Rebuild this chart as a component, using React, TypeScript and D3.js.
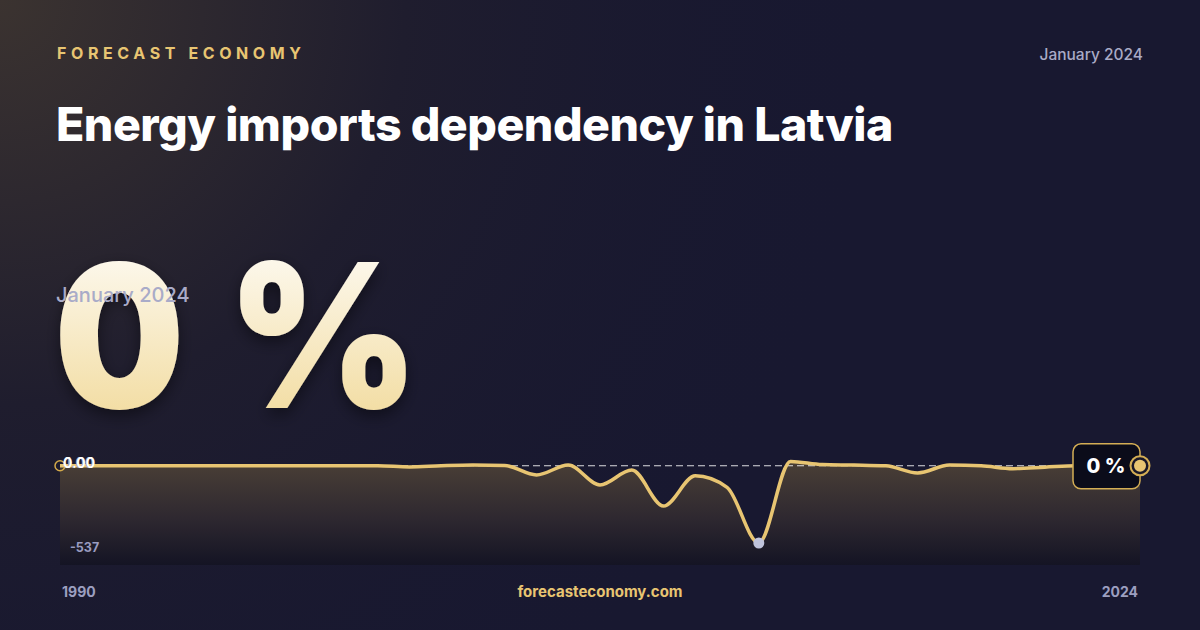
import React from 'react';
import * as d3 from 'd3';

const years = d3.range(1990, 2025);
const values = [
  0, 0, 0, 0, 0, 0, 0, 0, 0, 0,
  0, -8, 0, 5, 2, -64, 5, -133, -30, -280,
  -70, -150, -537, 30, 8, 5, 0, -50, 5, 0,
  -20, -10, 0, 0, 0,
];
const yDomain = [-537, 40];
const brand = 'FORECAST ECONOMY';
const title = 'Energy imports dependency in Latvia';
const period = 'January 2024';
const latestLabel = '0 %';
const site = 'forecasteconomy.com';

const W = 1200;
const H = 630;
const FONT = 'Inter, "Noto Sans", sans-serif';
const GOLD = '#e8c572';

export default function App() {
  const x = d3.scaleLinear().domain([1990, 2024]).range([60, 1140]);
  const y = d3.scaleLinear().domain(yDomain).range([543, 460]);
  const bottom = 565;

  const pts = years.map((yr, i) => ({ yr, v: values[i] }));

  const line = d3.line<{ yr: number; v: number }>()
    .x(d => x(d.yr))
    .y(d => y(d.v))
    .curve(d3.curveMonotoneX);

  const area = d3.area<{ yr: number; v: number }>()
    .x(d => x(d.yr))
    .y0(bottom)
    .y1(d => y(d.v))
    .curve(d3.curveMonotoneX);

  const minIdx = d3.minIndex(values);
  const last = pts[pts.length - 1];
  const lx = x(last.yr);
  const ly = y(last.v);

  return (
    <svg width={W} height={H} style={{ display: 'block', position: 'absolute', left: 0, top: 0 }}>
      <defs>
        <radialGradient id="glow" cx="0" cy="0" r="0.75" gradientTransform="scale(1,1.9)">
          <stop offset="0%" stopColor="#3b3330" />
          <stop offset="45%" stopColor="#1f1d2e" />
          <stop offset="100%" stopColor="#181830" stopOpacity="0" />
        </radialGradient>
        <linearGradient id="areaFill" x1="0" y1="0" x2="0" y2="1">
          <stop offset="0%" stopColor="#4a3f36" />
          <stop offset="55%" stopColor="#2e2830" />
          <stop offset="100%" stopColor="#141424" />
        </linearGradient>
        <linearGradient id="bigFill" x1="0" y1="0" x2="0" y2="1">
          <stop offset="0%" stopColor="#ffffff" />
          <stop offset="100%" stopColor="#f0d690" />
        </linearGradient>
        <filter id="shadow" x="-20%" y="-20%" width="140%" height="140%">
          <feDropShadow dx="0" dy="6" stdDeviation="8" floodColor="#000" floodOpacity="0.45" />
        </filter>
      </defs>

      <rect width={W} height={H} fill="#181830" />
      <rect width={W} height={H} fill="url(#glow)" />

      <text x={57} y={59} fill={GOLD} fontFamily={FONT} fontWeight={700} fontSize={16} letterSpacing={4.6}>
        {brand}
      </text>
      <text x={1143} y={60} textAnchor="end" fill="#a9abc6" fontFamily={FONT} fontWeight={500} fontSize={15.5}>
        {period}
      </text>
      <text x={56} y={141} fill="#ffffff" fontFamily={FONT} fontWeight={800} fontSize={46.5} letterSpacing={-0.5}>
        {title}
      </text>

      <g transform="translate(54,0) scale(0.92,1)">
        <text x={0} y={408} fill="url(#bigFill)" fontFamily={FONT} fontWeight={900} fontSize={200}
          letterSpacing={3} filter="url(#shadow)">
          {latestLabel}
        </text>
      </g>
      <text x={56} y={302} fill="#a9abc8" fontFamily={FONT} fontWeight={500} fontSize={20}>
        {period}
      </text>

      <path d={area(pts) ?? ''} fill="url(#areaFill)" />
      <line x1={x(1990)} x2={x(2024)} y1={y(0)} y2={y(0)} stroke="#ffffff" strokeOpacity={0.85}
        strokeWidth={1} strokeDasharray="7 4" />
      <path d={line(pts) ?? ''} fill="none" stroke={GOLD} strokeWidth={3.5} strokeLinejoin="round" />

      <circle cx={x(1990)} cy={y(values[0])} r={5} fill="none" stroke="#d4aa4a" strokeWidth={1.5} />
      <text x={65} y={468} fill="#9a9cb4" fontFamily={FONT} fontWeight={700} fontSize={14}>1.00</text>
      <text x={63} y={468} fill="#ffffff" fontFamily={FONT} fontWeight={700} fontSize={14}>0.00</text>
      <text x={70} y={552} fill="#9a9cc0" fontFamily={FONT} fontWeight={700} fontSize={12.5}>
        {String(values[minIdx])}
      </text>

      <circle cx={x(years[minIdx])} cy={y(values[minIdx])} r={5.5} fill="#c0c4dc" />

      <rect x={lx - 67} y={ly - 22} width={67} height={45} rx={8} fill="#0b0c1a" stroke="#d4ae55" strokeWidth={1.5} />
      <text x={lx - 34} y={ly + 7} textAnchor="middle" fill="#ffffff" fontFamily={FONT} fontWeight={800} fontSize={20}>
        {latestLabel}
      </text>
      <circle cx={lx} cy={ly} r={9.5} fill="#1a1828" stroke="#d4ae55" strokeWidth={2} />
      <circle cx={lx} cy={ly} r={6} fill={GOLD} />

      <text x={62} y={597} fill="#9c9fc0" fontFamily={FONT} fontWeight={700} fontSize={14}>{years[0]}</text>
      <text x={600} y={597} textAnchor="middle" fill={GOLD} fontFamily={FONT} fontWeight={700} fontSize={15}>{site}</text>
      <text x={1138} y={597} textAnchor="end" fill="#9c9fc0" fontFamily={FONT} fontWeight={700} fontSize={14}>
        {years[years.length - 1]}
      </text>
    </svg>
  );
}
